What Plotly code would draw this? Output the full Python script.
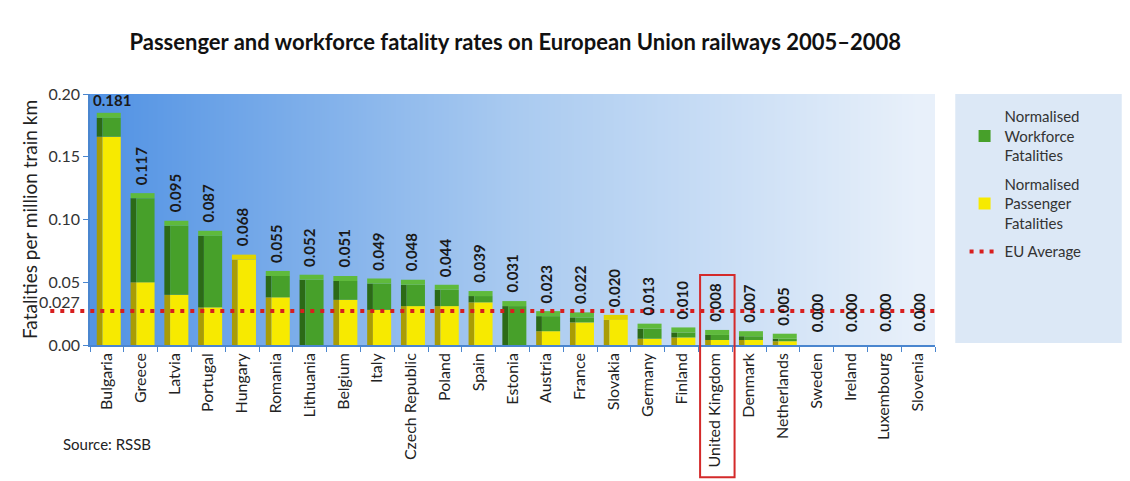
import plotly.graph_objects as go

countries = ["Bulgaria", "Greece", "Latvia", "Portugal", "Hungary", "Romania", "Lithuania",
             "Belgium", "Italy", "Czech Republic", "Poland", "Spain", "Estonia", "Austria",
             "France", "Slovakia", "Germany", "Finland", "United Kingdom", "Denmark",
             "Netherlands", "Sweden", "Ireland", "Luxembourg", "Slovenia"]
passenger = [0.166, 0.050, 0.040, 0.030, 0.068, 0.038, 0.000, 0.036, 0.028, 0.031, 0.031,
             0.034, 0.000, 0.011, 0.018, 0.020, 0.005, 0.006, 0.004, 0.004, 0.003, 0, 0, 0, 0]
workforce = [0.015, 0.067, 0.055, 0.057, 0.000, 0.017, 0.052, 0.015, 0.021, 0.017, 0.013,
             0.005, 0.031, 0.012, 0.004, 0.000, 0.008, 0.004, 0.004, 0.003, 0.002, 0, 0, 0, 0]
total_labels = ["0.181", "0.117", "0.095", "0.087", "0.068", "0.055", "0.052", "0.051",
                "0.049", "0.048", "0.044", "0.039", "0.031", "0.023", "0.022", "0.020",
                "0.013", "0.010", "0.008", "0.007", "0.005", "0.000", "0.000", "0.000", "0.000"]
eu_average = 0.027
highlight = "United Kingdom"

y_ticks = [0.0, 0.05, 0.10, 0.15, 0.20]
y_ticktext = ["0.00", "0.05", "0.10", "0.15", "0.20"]

FONT = "Lato"
YEL, YEL_SIDE, YEL_TOP = "#f7ea00", "#a99c05", "#e0d400"
GRN, GRN_SIDE, GRN_TOP = "#47a02a", "#2c6a17", "#5fba3c"
AXIS = "#4a86cf"

totals = [p + w for p, w in zip(passenger, workforce)]
n = len(countries)
cap = 0.004

fig = go.Figure()

# gradient background
fig.add_trace(go.Heatmap(
    x=countries, y=[0, 0.2], z=[[i / (n - 1) for i in range(n)]],
    colorscale=[[0, "#5494e4"], [0.5, "#a9caf0"], [1, "#e8f0fa"]],
    showscale=False, hoverinfo="skip", zsmooth="best"))

side_w, side_off = 0.17, -0.30
front_w, front_off = 0.54, -0.13

# side faces
fig.add_trace(go.Bar(x=countries, y=passenger, base=0, width=side_w, offset=side_off,
                     marker=dict(color=YEL_SIDE, line_width=0), showlegend=False, hoverinfo="skip"))
fig.add_trace(go.Bar(x=countries, y=workforce, base=passenger, width=side_w, offset=side_off,
                     marker=dict(color=GRN_SIDE, line_width=0), showlegend=False, hoverinfo="skip"))
# front faces
fig.add_trace(go.Bar(x=countries, y=passenger, base=0, width=front_w, offset=front_off,
                     marker=dict(color=YEL, line_width=0), name="Normalised<br>Passenger<br>Fatalities",
                     legendrank=2, legendgroup="p"))
fig.add_trace(go.Bar(x=countries, y=workforce, base=passenger, width=front_w, offset=front_off,
                     marker=dict(color=GRN, line_width=0), name="Normalised<br>Workforce<br>Fatalities",
                     legendrank=1, legendgroup="w"))
# top caps
cap_h = [cap if t > 0 else 0 for t in totals]
cap_c = [GRN_TOP if w > 0 else YEL_TOP for w in workforce]
fig.add_trace(go.Bar(x=countries, y=cap_h, base=totals, width=side_w + front_w, offset=side_off,
                     marker=dict(color=cap_c, line_width=0), showlegend=False, hoverinfo="skip"))

# EU average line
fig.add_shape(type="line", xref="paper", x0=-0.047, x1=1, yref="y", y0=eu_average, y1=eu_average,
              line=dict(color="#d81e1e", width=4, dash="4px,6px"),
              showlegend=True, name="EU Average", legendrank=3, legendgroup="a")

# value labels
for c, t, lab in zip(countries, totals, total_labels):
    horizontal = t > 0.15
    fig.add_annotation(x=c, y=t, text=lab, showarrow=False, yanchor="bottom",
                       textangle=0 if horizontal else -90, yshift=7 if horizontal else 11,
                       xshift=5 if horizontal else 0,
                       font=dict(family=FONT, size=15, color="#1a1a1a", weight="bold"))

# 0.027 label
fig.add_annotation(xref="x", x=-0.5, xanchor="right", xshift=-8, yref="y", y=eu_average,
                   yanchor="middle", yshift=10,
                   text=f"{eu_average:.3f}", showarrow=False,
                   font=dict(family=FONT, size=16, color="#333"))

# highlight box
hi = countries.index(highlight)
fig.add_shape(type="rect", xref="x", x0=hi - 0.45, x1=hi + 0.57, yref="paper", y0=-0.527, y1=0.279,
              line=dict(color="#d42a2a", width=2), fillcolor="rgba(0,0,0,0)")

# legend background
fig.add_shape(type="rect", xref="paper", x0=1.024, x1=1.221, yref="paper", y0=0.008, y1=1.0,
              line_width=0, fillcolor="#dce8f6", layer="below")

fig.add_annotation(xref="paper", yref="paper", x=-0.034, y=-0.438, xanchor="left",
                   text="Source: RSSB", showarrow=False,
                   font=dict(family=FONT, size=15, color="#222"))

fig.update_layout(
    width=1130, height=481,
    margin=dict(l=90, r=195, t=94, b=136),
    paper_bgcolor="white", plot_bgcolor="white",
    barmode="overlay",
    title=dict(text="<b>Passenger and workforce fatality rates on European Union railways 2005–2008</b>",
               x=0.456, xanchor="center", y=0.913, yanchor="middle",
               font=dict(family=FONT, size=22, color="#111")),
    font=dict(family=FONT, color="#222"),
    showlegend=True,
    legend=dict(x=1.035, y=0.975, xanchor="left", yanchor="top", bgcolor="rgba(0,0,0,0)",
                font=dict(family=FONT, size=15, color="#333"), tracegroupgap=6,
                traceorder="grouped", itemwidth=30),
)
fig.update_xaxes(range=[-0.5, n - 0.5], showline=True, linecolor=AXIS, linewidth=1.5,
                 ticks="outside", tickson="boundaries", tickcolor=AXIS, ticklen=5,
                 tickangle=-90, tickfont=dict(family=FONT, size=16, color="#222"),
                 showgrid=False, zeroline=False)
fig.update_yaxes(range=[0, 0.2], tickvals=y_ticks, ticktext=y_ticktext, showline=True,
                 linecolor=AXIS, linewidth=1.5, ticks="outside", tickcolor=AXIS, ticklen=5,
                 tickfont=dict(family=FONT, size=16, color="#333"), showgrid=False, zeroline=False,
                 title=dict(text="Fatalities per million train km", standoff=6,
                            font=dict(family=FONT, size=19, color="#222")))

fig.write_html("out.html")
